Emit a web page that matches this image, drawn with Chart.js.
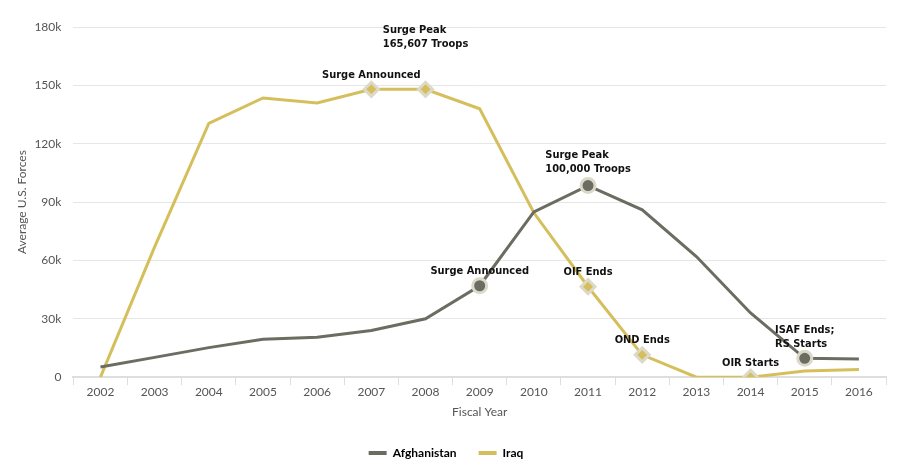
<!DOCTYPE html>
<html>
<head>
<meta charset="utf-8">
<script src="https://cdn.jsdelivr.net/npm/chart.js@4/dist/chart.umd.min.js"></script>
<style>
  html, body { margin: 0; padding: 0; background: #ffffff; }
  #wrap { width: 900px; height: 469px; }
</style>
</head>
<body>
<div id="wrap"><canvas id="forcesChart"></canvas></div>
<script>
const years = ['2002', '2003', '2004', '2005', '2006', '2007', '2008', '2009',
  '2010', '2011', '2012', '2013', '2014', '2015', '2016'];
const afghanistan = [5200, 10200, 15200, 19500, 20500, 24000, 30000, 47000,
  85000, 98500, 86000, 62000, 33000, 9700, 9300];
const iraq = [0, 67000, 130500, 143500, 141000, 148000, 148000, 138000,
  84500, 46500, 11500, 0, 0, 3200, 4000];

// which points get a marker + label
const afghanEvents = { 7: ['Surge Announced'], 9: ['Surge Peak', '100,000 Troops'], 13: ['ISAF Ends;', 'RS Starts'] };
const iraqEvents = { 5: ['Surge Announced'], 6: ['Surge Peak', '165,607 Troops'], 9: ['OIF Ends'], 10: ['OND Ends'], 12: ['OIR Starts'] };

const afghanColor = '#6b6d62';
const iraqColor = '#d5bf5c';
const ringColor = '#dcd9c8';

function markerRadius(events) {
  return ctx => (events[ctx.dataIndex] ? 7 : 0);
}

// vertical offset of the last label line from the point (pixels)
const labelShift = { a7: -15, a9: -16, a13: -14, i5: -14, i6: -45, i9: -15, i10: -15, i12: -14 };

const eventLabels = {
  id: 'eventLabels',
  afterDatasetsDraw(chart) {
    const c = chart.ctx;
    c.save();
    c.font = 'bold 11px "DejaVu Sans Condensed"';
    c.fillStyle = '#111';
    c.textAlign = 'left';
    c.textBaseline = 'middle';
    [[0, afghanEvents, 'a'], [1, iraqEvents, 'i']].forEach(([dsIdx, events, key]) => {
      const meta = chart.getDatasetMeta(dsIdx);
      Object.keys(events).forEach(i => {
        const pt = meta.data[i];
        const lines = events[i];
        const w = Math.max(...lines.map(t => c.measureText(t).width));
        lines.forEach((txt, n) => {
          const y = pt.y + labelShift[key + i] - (lines.length - 1 - n) * 14;
          c.fillText(txt, pt.x - w / 2, y);
        });
      });
    });
    c.restore();
  }
};

new Chart(document.getElementById('forcesChart'), {
  type: 'line',
  data: {
    labels: years,
    datasets: [{
      label: 'Afghanistan',
      data: afghanistan,
      borderColor: afghanColor,
      backgroundColor: afghanColor,
      borderWidth: 3,
      tension: 0,
      pointStyle: 'circle',
      pointRadius: markerRadius(afghanEvents),
      pointHoverRadius: markerRadius(afghanEvents),
      pointBackgroundColor: afghanColor,
      pointBorderColor: ringColor,
      pointBorderWidth: 3
    }, {
      label: 'Iraq',
      data: iraq,
      borderColor: iraqColor,
      backgroundColor: iraqColor,
      borderWidth: 3,
      tension: 0,
      pointStyle: 'rectRot',
      pointRadius: markerRadius(iraqEvents),
      pointHoverRadius: markerRadius(iraqEvents),
      pointBackgroundColor: iraqColor,
      pointBorderColor: ringColor,
      pointBorderWidth: 3
    }]
  },
  options: {
    responsive: true,
    maintainAspectRatio: false,
    animation: false,
    layout: { padding: { left: 6, right: 14, top: 27, bottom: 0 } },
    plugins: {
      tooltip: { enabled: false },
      legend: {
        position: 'bottom',
        labels: {
          usePointStyle: true,
          pointStyle: 'line',
          pointStyleWidth: 18,
          boxHeight: 4,
          padding: 22,
          color: '#222',
          font: { family: 'Lato', size: 12, weight: 'bold' },
          generateLabels(chart) {
            return chart.data.datasets.map((ds, i) => ({
              text: ds.label,
              strokeStyle: ds.borderColor,
              fillStyle: ds.borderColor,
              lineWidth: 4,
              pointStyle: 'line',
              datasetIndex: i
            }));
          }
        }
      }
    },
    scales: {
      x: {
        offset: true,
        grid: { display: true, drawOnChartArea: false, offset: true, color: '#dedede', tickLength: 8 },
        border: { color: '#dedede', width: 2 },
        ticks: { color: '#555', font: { family: 'Lato', size: 12 }, padding: 0 },
        title: { display: true, text: 'Fiscal Year', color: '#555', font: { family: 'Lato', size: 12 }, padding: { top: 5, bottom: 6 } }
      },
      y: {
        min: 0,
        max: 180000,
        ticks: {
          stepSize: 30000,
          color: '#555',
          font: { family: 'Lato', size: 12 },
          padding: 12,
          callback: v => (v === 0 ? '0' : v / 1000 + 'k')
        },
        grid: { color: '#e6e6e6', drawTicks: false },
        border: { display: false },
        title: { display: true, text: 'Average U.S. Forces', color: '#555', font: { family: 'Lato', size: 12 }, padding: { top: 9, bottom: -7 } }
      }
    }
  },
  plugins: [eventLabels]
});
</script>
</body>
</html>
